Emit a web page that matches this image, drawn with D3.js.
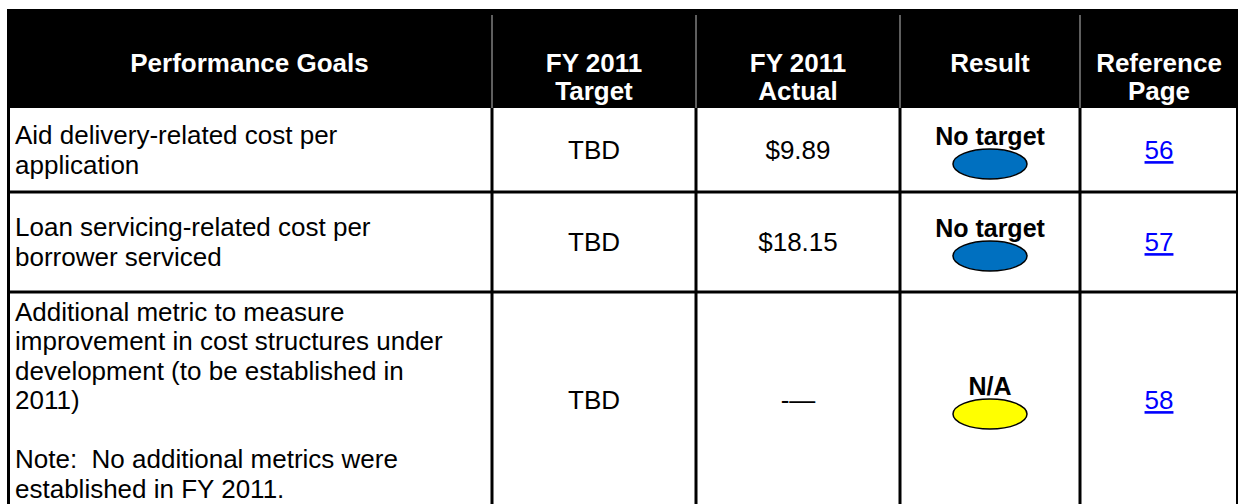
<!DOCTYPE html>
<html>
<head>
<meta charset="utf-8">
<script src="https://cdn.jsdelivr.net/npm/d3@7"></script>
<style>
  body { margin: 0; background: #fff; }
  svg { display: block; font-family: "Liberation Sans", Arial, sans-serif; }
  text { white-space: pre; }
</style>
</head>
<body>
<svg id="chart" width="1246" height="504"></svg>
<script>
// table content
var headers = [["Performance Goals"], ["FY 2011", "Target"], ["FY 2011", "Actual"], ["Result"], ["Reference", "Page"]];
var goals = [
    ["Aid delivery-related cost per", "application"],
    ["Loan servicing-related cost per", "borrower serviced"],
    ["Additional metric to measure", "improvement in cost structures under", "development (to be established in", "2011)", "", "Note:  No additional metrics were", "established in FY 2011."]
];
var targets = ["TBD", "TBD", "TBD"];
var actuals = ["$9.89", "$18.15", "-\u2014"];
var results = ["No target", "No target", "N/A"];
var resultColors = ["#0070C0", "#0070C0", "#FFFF00"];
var pages = ["56", "57", "58"];

// layout
var colEdges = [7, 492, 696, 900, 1080, 1238];
var rowEdges = [108, 192, 292, 508];
var headTop = 9;
var lineStep = 29.5;
var fontSize = 26;

var svg = d3.select("#chart");

var colIdx = d3.range(headers.length);
var rowIdx = d3.range(goals.length);

var xLeft = d3.scaleOrdinal().domain(colIdx).range(colEdges.slice(0, -1));
var xRight = d3.scaleOrdinal().domain(colIdx).range(colEdges.slice(1));
var xMid = function(i) { return (xLeft(i) + xRight(i)) / 2; };
var yTop = d3.scaleOrdinal().domain(rowIdx).range(rowEdges.slice(0, -1));
var yBot = d3.scaleOrdinal().domain(rowIdx).range(rowEdges.slice(1));
var yMid = function(r) { return (yTop(r) + yBot(r)) / 2; };

// header
svg.append("rect")
    .attr("x", colEdges[0])
    .attr("y", headTop)
    .attr("width", colEdges[colEdges.length - 1] - colEdges[0])
    .attr("height", rowEdges[0] - headTop)
    .attr("fill", "#000");

svg.selectAll("line.head-sep")
    .data(colIdx.slice(1))
    .enter().append("line")
    .attr("class", "head-sep")
    .attr("x1", function(i) { return xLeft(i); })
    .attr("x2", function(i) { return xLeft(i); })
    .attr("y1", headTop + 6)
    .attr("y2", rowEdges[0])
    .attr("stroke", "#bdbdbd")
    .attr("stroke-width", 1);

var headCells = svg.selectAll("g.head")
    .data(headers)
    .enter().append("g")
    .attr("class", "head");

headCells.selectAll("text")
    .data(function(d, i) { return d.map(function(t, j) { return {t: t, col: i, line: j}; }); })
    .enter().append("text")
    .attr("x", function(d) { return xMid(d.col); })
    .attr("y", function(d) { return 63 + d.line * 28; })
    .attr("dy", "0.35em")
    .attr("text-anchor", "middle")
    .attr("fill", "#fff")
    .attr("font-weight", "bold")
    .attr("font-size", fontSize)
    .text(function(d) { return d.t; });

// goal text
rowIdx.forEach(function(r) {
    var lines = goals[r];
    var start = yMid(r) - (lines.length - 1) * lineStep / 2;
    svg.append("g").selectAll("text")
        .data(lines)
        .enter().append("text")
        .attr("x", colEdges[0] + 8)
        .attr("y", function(d, j) { return start + j * lineStep; })
        .attr("dy", "0.35em")
        .attr("font-size", fontSize)
        .attr("fill", "#000")
        .text(function(d) { return d; });
});

// target / actual
svg.selectAll("text.target")
    .data(targets)
    .enter().append("text")
    .attr("class", "target")
    .attr("x", xMid(1))
    .attr("y", function(d, r) { return yMid(r); })
    .attr("dy", "0.35em")
    .attr("text-anchor", "middle")
    .attr("font-size", fontSize)
    .text(function(d) { return d; });

svg.selectAll("text.actual")
    .data(actuals)
    .enter().append("text")
    .attr("class", "actual")
    .attr("x", xMid(2))
    .attr("y", function(d, r) { return yMid(r); })
    .attr("dy", "0.35em")
    .attr("text-anchor", "middle")
    .attr("font-size", fontSize)
    .text(function(d) { return d; });

// result: label + ellipse
var res = svg.selectAll("g.result")
    .data(results)
    .enter().append("g")
    .attr("class", "result")
    .attr("transform", function(d, r) { return "translate(" + xMid(3) + "," + yMid(r) + ")"; });

res.append("ellipse")
    .attr("cx", 0)
    .attr("cy", 14)
    .attr("rx", 37)
    .attr("ry", 15)
    .attr("fill", function(d, r) { return resultColors[r]; })
    .attr("stroke", "#000")
    .attr("stroke-width", 1.5);

res.append("text")
    .attr("x", 0)
    .attr("y", -14)
    .attr("dy", "0.35em")
    .attr("text-anchor", "middle")
    .attr("font-weight", "bold")
    .attr("font-size", 25)
    .text(function(d) { return d; });

// reference page links
svg.selectAll("text.page")
    .data(pages)
    .enter().append("text")
    .attr("class", "page")
    .attr("x", xMid(4))
    .attr("y", function(d, r) { return yMid(r); })
    .attr("dy", "0.35em")
    .attr("text-anchor", "middle")
    .attr("font-size", fontSize)
    .attr("fill", "#0000ff")
    .attr("text-decoration", "underline")
    .text(function(d) { return d; });

// grid lines
svg.selectAll("line.row-sep")
    .data(rowIdx.slice(1))
    .enter().append("line")
    .attr("class", "row-sep")
    .attr("x1", colEdges[0])
    .attr("x2", colEdges[colEdges.length - 1])
    .attr("y1", function(r) { return yTop(r); })
    .attr("y2", function(r) { return yTop(r); })
    .attr("stroke", "#000")
    .attr("stroke-width", 3);

svg.selectAll("line.col-sep")
    .data(colEdges)
    .enter().append("line")
    .attr("class", "col-sep")
    .attr("x1", function(d, i) { return i == 0 ? d + 1.5 : (i == colEdges.length - 1 ? d - 1 : d); })
    .attr("x2", function(d, i) { return i == 0 ? d + 1.5 : (i == colEdges.length - 1 ? d - 1 : d); })
    .attr("y1", rowEdges[0])
    .attr("y2", rowEdges[rowEdges.length - 1])
    .attr("stroke", "#000")
    .attr("stroke-width", function(d, i) { return i == colEdges.length - 1 ? 2 : 3; });
</script>
</body>
</html>
